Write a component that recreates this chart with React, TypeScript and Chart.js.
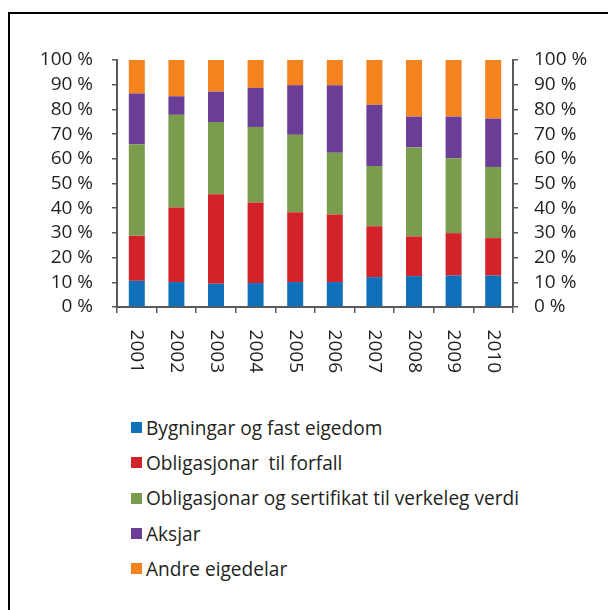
import React, { useEffect, useRef } from "react";
import { Chart, registerables } from "chart.js";

Chart.register(...registerables);

const years = ["2001", "2002", "2003", "2004", "2005", "2006", "2007", "2008", "2009", "2010"];
const seriesNames = [
  "Bygningar og fast eigedom",
  "Obligasjonar  til forfall",
  "Obligasjonar og sertifikat til verkeleg verdi",
  "Aksjar",
  "Andre eigedelar",
];
const seriesColors = ["#1071ba", "#d2232a", "#799c4d", "#6a3d97", "#f4821f"];
const bygningar = [10.6, 10.1, 9.4, 9.7, 10.1, 10.1, 12.1, 12.5, 12.7, 12.7];
const obligForfall = [18.2, 30.2, 36.2, 32.6, 28.3, 27.4, 20.6, 16.1, 17.2, 15.2];
const obligVerkeleg = [37.1, 37.5, 29.3, 30.6, 31.3, 25.0, 24.4, 36.0, 30.3, 28.8];
const aksjar = [20.5, 7.5, 12.3, 15.8, 20.1, 27.3, 24.8, 12.5, 16.9, 19.6];
const andre = [13.6, 14.7, 12.8, 11.3, 10.2, 10.2, 18.1, 22.9, 22.9, 23.7];
const seriesValues = [bygningar, obligForfall, obligVerkeleg, aksjar, andre];
const yTickValues = [0, 10, 20, 30, 40, 50, 60, 70, 80, 90, 100];
const yTickSuffix = " %";

const FONT = "'Open Sans', sans-serif";
const TEXT = "#231f20";
const AXIS = "#58595b";
const TICK_SIZE = 19;

export default function App() {
  const ref = useRef<HTMLCanvasElement | null>(null);

  useEffect(() => {
    if (!ref.current) return;
    const tickFont = { family: FONT, size: TICK_SIZE };
    const yGrid = { drawOnChartArea: false, drawTicks: true, tickLength: 5, color: AXIS, lineWidth: 1.5 };
    const yBorder = { display: true, color: AXIS, width: 2 };
    const setTicks = (s: any) => {
      s.ticks = yTickValues.map((v) => ({ value: v }));
    };
    const fmt = (v: any) => `${v}${yTickSuffix}`;
    const chart = new Chart(ref.current, {
      type: "bar",
      data: {
        labels: years,
        datasets: seriesValues.map((vals, i) => ({
          label: seriesNames[i],
          data: vals,
          backgroundColor: seriesColors[i],
          borderWidth: 0,
          categoryPercentage: 1,
          barPercentage: 0.404,
          yAxisID: "y",
        })),
      },
      options: {
        responsive: false,
        animation: false,
        layout: { padding: { top: 52, left: 0, right: 0, bottom: 0 } },
        plugins: { legend: { display: false }, tooltip: { enabled: false } },
        scales: {
          x: {
            stacked: true,
            grid: { drawOnChartArea: false, drawTicks: true, tickLength: 6, color: AXIS, lineWidth: 1.5, offset: true },
            border: { display: true, color: AXIS, width: 2 },
            ticks: {
              minRotation: -90,
              maxRotation: -90,
              autoSkip: false,
              padding: 60,
              color: TEXT,
              font: tickFont,
            },
            afterFit: (s: any) => {
              s.height = 101;
            },
          },
          y: {
            stacked: true,
            position: "left",
            min: 0,
            max: 100,
            grid: yGrid,
            border: yBorder,
            ticks: { padding: 19, autoSkip: false, color: TEXT, font: tickFont, callback: fmt },
            afterBuildTicks: setTicks,
            afterFit: (s: any) => {
              s.width = 109;
            },
          },
          y2: {
            position: "right",
            min: 0,
            max: 100,
            grid: yGrid,
            border: yBorder,
            ticks: { padding: 16, autoSkip: false, color: TEXT, font: tickFont, callback: fmt },
            afterBuildTicks: setTicks,
            afterFit: (s: any) => {
              s.width = 103;
            },
          },
        },
      } as any,
    });
    return () => chart.destroy();
  }, []);

  return (
    <div style={{ position: "relative", width: 608, height: 602 }}>
      <div
        style={{
          position: "absolute",
          left: 0,
          top: 4,
          width: 606,
          height: 596,
          borderTop: "2px solid #000",
          borderLeft: "2px solid #000",
        }}
      />
      <canvas ref={ref} width={608} height={400} style={{ position: "absolute", left: 0, top: 0 }} />
      <div style={{ position: "absolute", left: 123, top: 402, fontFamily: FONT, color: TEXT, fontSize: 19.1 }}>
        {seriesNames.map((name, i) => (
          <div key={name} style={{ height: 35.3, display: "flex", alignItems: "center", whiteSpace: "pre" }}>
            <span style={{ width: 11, height: 11, background: seriesColors[i], marginRight: 4, flex: "none" }} />
            <span>{name}</span>
          </div>
        ))}
      </div>
    </div>
  );
}
